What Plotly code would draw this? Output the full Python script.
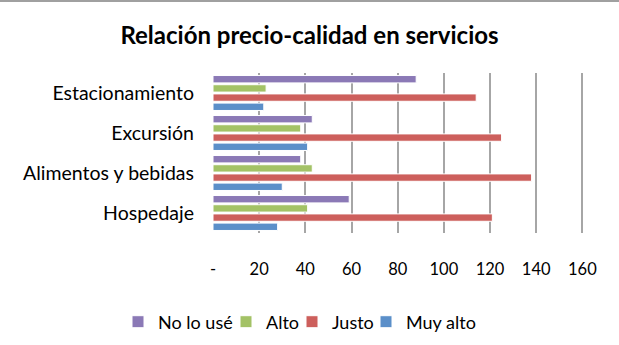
import plotly.graph_objects as go

categories = ["Hospedaje", "Alimentos y bebidas", "Excursión", "Estacionamiento"]
muy_alto = [28, 30, 41, 22]
justo = [121, 138, 125, 114]
alto = [41, 43, 38, 23]
no_lo_use = [59, 38, 43, 88]
tick_vals = [0, 20, 40, 60, 80, 100, 120, 140, 160]
tick_text = ["-", "20", "40", "60", "80", "100", "120", "140", "160"]

# (name, values, colour, legend id, legend text start px)
series = [
    ("Muy alto", muy_alto, "#5B8FC9", "legend4", 406),
    ("Justo", justo, "#CD5F5C", "legend3", 332),
    ("Alto", alto, "#A3C266", "legend2", 266),
    ("No lo usé", no_lo_use, "#8B79B6", "legend", 158),
]

FONT = "Lato, Calibri, sans-serif"
W, H = 619, 345
PW = 2.306 * 162  # plot width so that 0..160 spans ~369 px

fig = go.Figure()
legends = {}
for name, vals, color, leg, tx in series:
    fig.add_trace(go.Bar(
        y=categories, x=vals, name=name, orientation="h",
        marker=dict(color=color, line=dict(color="white", width=1)),
        legend=leg,
    ))
    legends[leg] = dict(
        orientation="h", xref="container", yref="container",
        x=(tx - 40) / W, xanchor="left", y=1 - 322 / H, yanchor="middle",
        font=dict(family=FONT, size=18, color="black"),
        bgcolor="rgba(0,0,0,0)", borderwidth=0,
    )

fig.update_layout(
    width=W, height=H,
    margin=dict(l=213, r=W - 213 - PW, t=73, b=112, autoexpand=False),
    paper_bgcolor="white", plot_bgcolor="white",
    barmode="group", bargap=0.08, bargroupgap=0.2,
    title=dict(text="<b>Relación precio-calidad en servicios</b>",
               x=0.5, xanchor="center", y=1 - 36 / H, yanchor="middle",
               font=dict(family=FONT, size=24, color="black")),
    font=dict(family=FONT, size=16, color="black"),
    showlegend=True,
    **legends,
)
fig.update_xaxes(
    range=[0, 162], tickvals=tick_vals, ticktext=tick_text,
    showgrid=True, gridcolor="#A6A6A6", gridwidth=2,
    zeroline=False, showline=False, ticks="", automargin=False,
    ticklabelstandoff=24,
    tickfont=dict(family=FONT, size=16.5, color="black"),
)
fig.update_yaxes(
    categoryorder="array", categoryarray=categories,
    showgrid=False, zeroline=False, showline=False, ticks="", automargin=False,
    ticklabelstandoff=18,
    tickfont=dict(family=FONT, size=19.5, color="black"),
)
fig.add_shape(type="line", xref="paper", yref="paper",
              x0=-213 / PW, x1=(619 - 213) / PW, y0=1 + 72 / 160, y1=1 + 72 / 160,
              line=dict(color="#A0A0A0", width=2))

fig.write_html("out.html", config={"displayModeBar": False},
               post_script=["document.body.style.margin='0';"])
